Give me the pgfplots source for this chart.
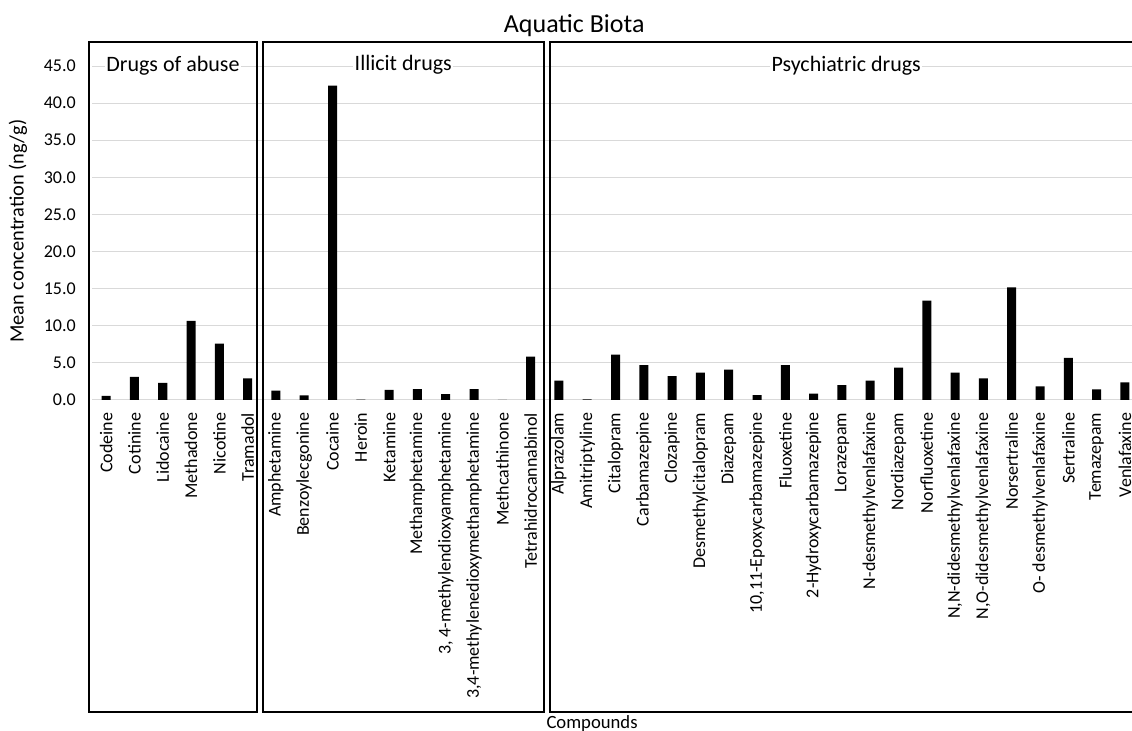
\documentclass[border=0pt]{standalone}
\usepackage{pgfplots}
\pgfplotsset{compat=1.18}
\usepackage{pgfplotstable}
\usepackage{fontspec}
\setmainfont{Carlito}
\definecolor{gridgray}{HTML}{D9D9D9}
\pgfplotstableread{
x y
0 0.55
1 3.1
2 2.3
3 10.65
4 7.6
5 2.9
6 1.26
7 0.63
8 42.35
9 0.05
10 1.35
11 1.48
12 0.8
13 1.48
14 0
15 5.84
16 2.6
17 0.1
18 6.1
19 4.7
20 3.2
21 3.7
22 4.1
23 0.67
24 4.7
25 0.85
26 2.0
27 2.6
28 4.36
29 13.38
30 3.7
31 2.9
32 15.18
33 1.84
34 5.66
35 1.44
36 2.38
}\datatable
\begin{document}
\begin{tikzpicture}
\useasboundingbox (0,0) rectangle (849pt,548.25pt);
\begin{axis}[
  at={(69pt,248.25pt)}, anchor=south west,
  scale only axis, width=780pt, height=250.5pt,
  xmin=-0.5, xmax=36.25, ymin=0, ymax=45,
  ybar, bar width=6.75pt, bar shift=0pt,
  xtick={0,...,36},
  xticklabels={Codeine,Cotinine,Lidocaine,Methadone,Nicotine,Tramadol,
    Amphetamine,Benzoylecgonine,Cocaine,Heroin,Ketamine,Methamphetamine,
    {3, 4-methylendioxyamphetamine},{3,4-methylenedioxymethamphetamine},Methcathinone,Tetrahidrocannabinol,
    Alprazolam,Amitriptyline,Citalopram,Carbamazepine,Clozapine,Desmethylcitalopram,Diazepam,
    {10,11-Epoxycarbamazepine},Fluoxetine,{2-Hydroxycarbamazepine},Lorazepam,N-desmethylvenlafaxine,
    Nordiazepam,Norfluoxetine,{N,N-didesmethylvenlafaxine},{N,O-didesmethylvenlafaxine},Norsertraline,
    {O- desmethylvenlafaxine},Sertraline,Temazepam,Venlafaxine},
  ytick={0,5,...,45},
  /pgf/number format/assume math mode=true,
  yticklabel style={/pgf/number format/fixed, /pgf/number format/fixed zerofill, /pgf/number format/precision=1},
  y tick label style={font=\fontsize{13.5}{16}\selectfont, anchor=east, inner xsep=12pt},
  x tick label style={font=\fontsize{13.5}{16}\selectfont, rotate=90, anchor=east, inner xsep=9.5pt},
  ymajorgrids, grid style={draw=gridgray, line width=0.75pt},
  axis line style={draw=none}, major tick length=0pt,
  ylabel={Mean concentration (ng/g)},
  ylabel style={font=\fontsize{15.3}{18}\selectfont, at={(axis description cs:-0.0712,0.505)}, anchor=center},
  clip=false,
]
\addplot[fill=black, draw=none] table[x=x, y=y] {\datatable};
\draw[line width=1.5pt] (axis cs:-0.6,-42.04) rectangle (axis cs:5.34,48.23);
\draw[line width=1.5pt] (axis cs:5.55,-42.04) rectangle (axis cs:15.48,48.23);
\draw[line width=1.5pt] (axis cs:15.69,-42.04) rectangle (axis cs:36.6,48.23);
\node[fill=white, inner sep=1pt, font=\fontsize{16.5}{19}\selectfont] at (axis cs:2.36,45) {Drugs of abuse};
\node[fill=white, inner sep=1pt, font=\fontsize{16.5}{19}\selectfont] at (axis cs:10.5,45.2) {Illicit drugs};
\node[fill=white, inner sep=1pt, font=\fontsize{16.5}{19}\selectfont] at (axis cs:26.15,45) {Psychiatric drugs};
\node[anchor=base, inner sep=0pt, font=\fontsize{19.5}{23}\selectfont] at (axis cs:16.54,49.45) {Aquatic Biota};
\node[anchor=base, inner sep=0pt, font=\fontsize{14}{17}\selectfont] at (axis cs:17.17,-44.2) {Compounds};
\end{axis}
\end{tikzpicture}
\end{document}
